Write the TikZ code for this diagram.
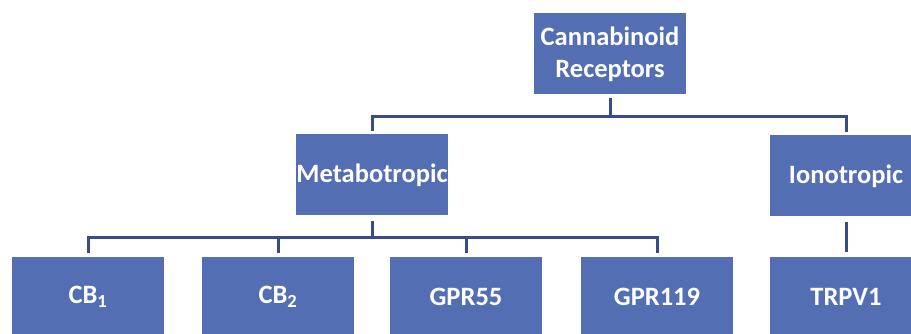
\documentclass[tikz,border=0pt]{standalone}
\usepackage{fontspec}
\setmainfont{Carlito}
\usepackage{tikz}
\definecolor{boxblue}{RGB}{84,110,180}
\definecolor{lineblue}{RGB}{56,76,140}

\begin{document}
\begin{tikzpicture}[x=1pt,y=-1pt,
        recbox/.style={fill=boxblue, text=white, minimum width=152pt, minimum height=81pt,
            inner sep=0pt, align=center, font=\fontsize{26.5}{32}\selectfont\bfseries},
        link/.style={draw=lineblue, line width=3pt}]
    \useasboundingbox (0,0) rectangle (911,334);
    \clip (0,0) rectangle (911,334);
    \node[recbox] (cannab) at (610,54) {Cannabinoid\\Receptors};
    \node[recbox] (metab) at (372,175) {Metabotropic};
    \node[recbox] (ionot) at (846,176) {Ionotropic};
    \node[recbox, minimum height=80pt] (cbone) at (88,297) {CB\textsubscript{1}};
    \node[recbox, minimum height=80pt] (cbtwo) at (278,297) {CB\textsubscript{2}};
    \node[recbox, minimum height=80pt] (gprfive) at (466,297) {GPR55};
    \node[recbox, minimum height=80pt] (gprnine) at (657,297) {GPR119};
    \node[recbox, minimum height=80pt] (trpv) at (846,297) {TRPV1};
    \coordinate (topbus) at (610,117);
    \coordinate (metabus) at (372,237);
    \draw[link, shorten <=3pt] (cannab) -- (topbus);
    \draw[link, shorten >=3pt] (topbus) -| (metab);
    \draw[link, shorten >=3pt] (topbus) -| (ionot);
    \draw[link, shorten <=5pt] (metab) -- (metabus);
    \foreach \leaf in {cbone,cbtwo,gprfive,gprnine}
        \draw[link, shorten >=4pt] (metabus) -| (\leaf);
    \draw[link, shorten <=5pt, shorten >=5pt] (ionot) -- (trpv);
\end{tikzpicture}
\end{document}
